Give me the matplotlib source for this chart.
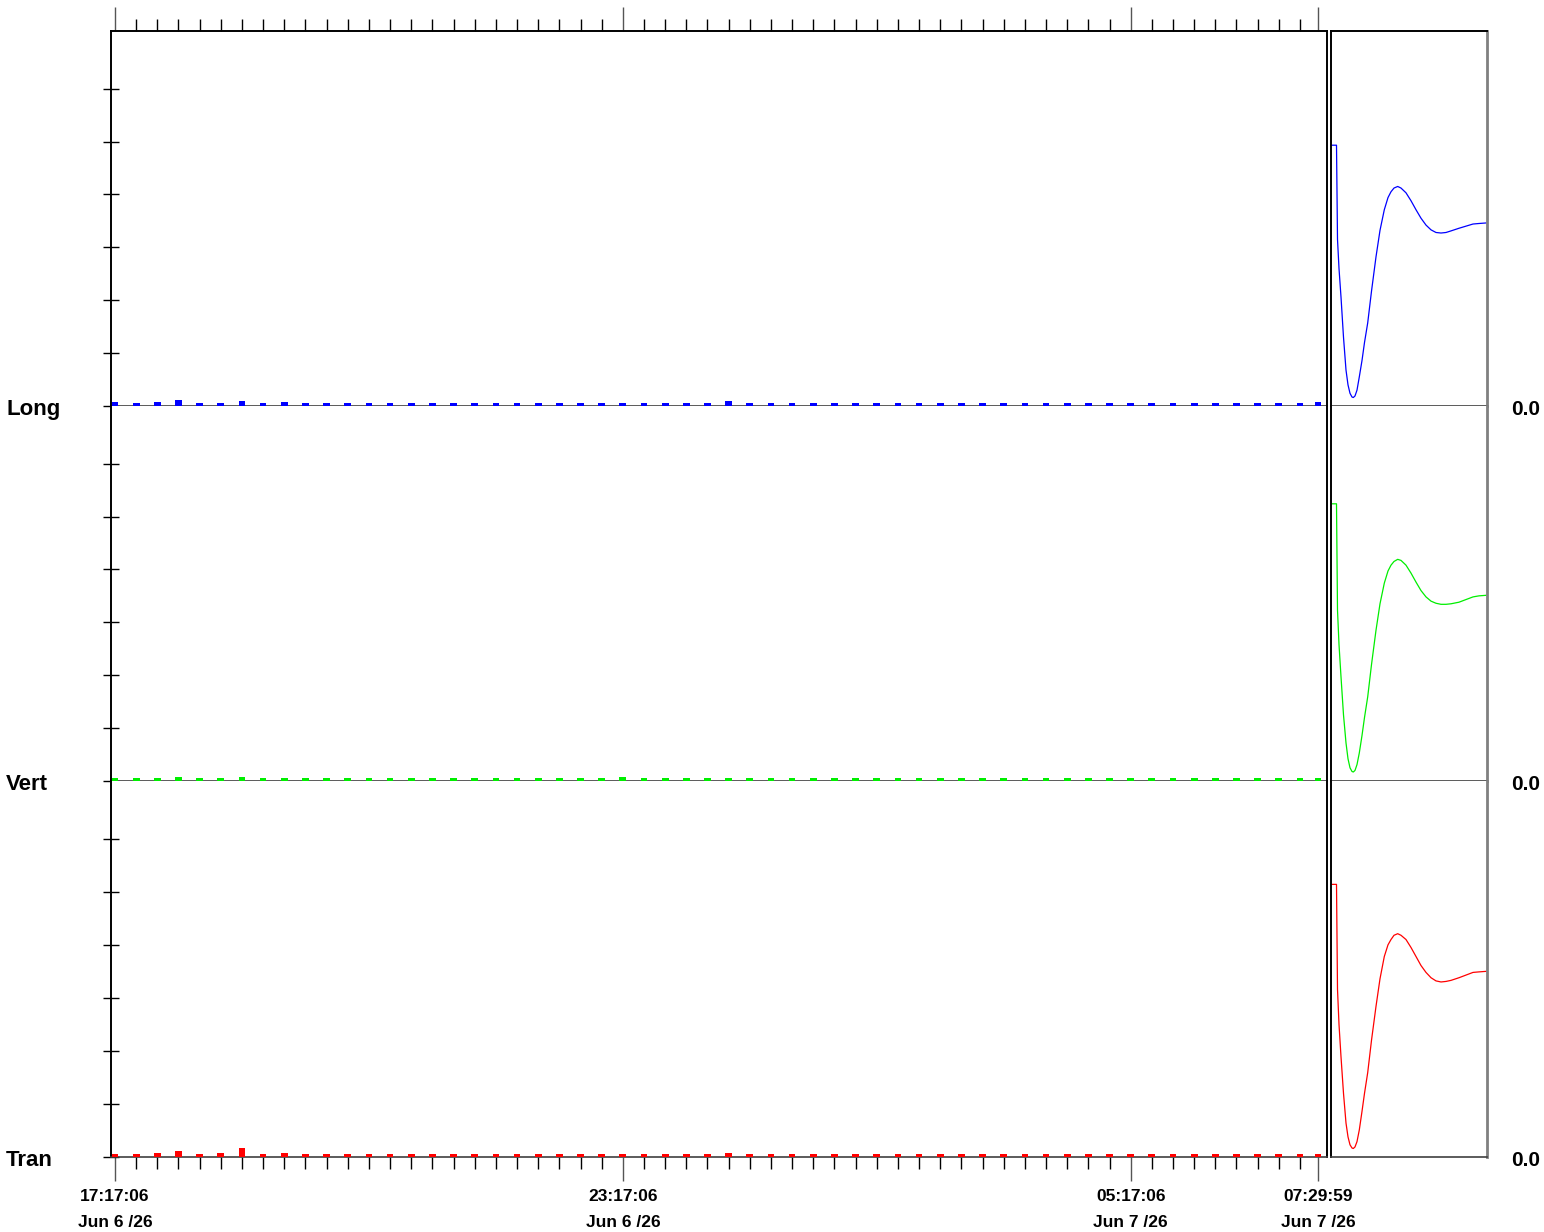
import numpy as np
import pandas as pd
import matplotlib
matplotlib.use("Agg")
import matplotlib.pyplot as plt
import matplotlib.transforms as mtransforms

plt.rcParams['font.family'] = ['Liberation Sans', 'DejaVu Sans']

# Sample times (every 15 min plus the last reading)
start = pd.Timestamp("2026-06-06 17:17:06")
sample_times = list(pd.date_range(start, periods=57, freq="15min")) + [pd.Timestamp("2026-06-07 07:29:59")]
tick_times = [pd.Timestamp("2026-06-06 17:17:06"), pd.Timestamp("2026-06-06 23:17:06"),
              pd.Timestamp("2026-06-07 05:17:06"), pd.Timestamp("2026-06-07 07:29:59")]
tick_time_labels = ["17:17:06", "23:17:06", "05:17:06", "07:29:59"]
tick_date_labels = ["Jun 6 /26", "Jun 6 /26", "Jun 7 /26", "Jun 7 /26"]

channels = ["Long", "Vert", "Tran"]
colors = ["#0000ff", "#00ee00", "#ff0000"]

long_vals = [0.07, 0.05, 0.07, 0.12, 0.05, 0.05, 0.09, 0.06, 0.07, 0.06, 0.05, 0.06, 0.06, 0.05,
             0.06, 0.05, 0.06, 0.05, 0.06, 0.06, 0.06, 0.06, 0.06, 0.05, 0.06, 0.06, 0.06, 0.06,
             0.06, 0.09, 0.06, 0.06, 0.06, 0.06, 0.05, 0.06, 0.05, 0.06, 0.06, 0.06, 0.06, 0.06,
             0.06, 0.06, 0.06, 0.06, 0.06, 0.06, 0.06, 0.06, 0.06, 0.06, 0.06, 0.06, 0.06, 0.06,
             0.06, 0.07]
vert_vals = [0.05, 0.05, 0.05, 0.07, 0.05, 0.05, 0.08, 0.05, 0.05, 0.05, 0.05, 0.05, 0.05, 0.05,
             0.05, 0.05, 0.05, 0.05, 0.05, 0.05, 0.05, 0.05, 0.05, 0.05, 0.08, 0.05, 0.05, 0.05,
             0.05, 0.05, 0.05, 0.05, 0.05, 0.05, 0.05, 0.05, 0.05, 0.05, 0.05, 0.05, 0.05, 0.05,
             0.05, 0.05, 0.05, 0.05, 0.05, 0.05, 0.05, 0.05, 0.05, 0.05, 0.05, 0.05, 0.05, 0.05,
             0.05, 0.05]
tran_vals = [0.06, 0.06, 0.07, 0.11, 0.06, 0.07, 0.17, 0.06, 0.08, 0.06, 0.06, 0.06, 0.06, 0.06,
             0.06, 0.06, 0.06, 0.06, 0.06, 0.06, 0.06, 0.06, 0.06, 0.06, 0.06, 0.06, 0.06, 0.06,
             0.06, 0.07, 0.06, 0.06, 0.06, 0.06, 0.06, 0.06, 0.06, 0.06, 0.06, 0.06, 0.06, 0.06,
             0.06, 0.06, 0.06, 0.06, 0.06, 0.06, 0.06, 0.06, 0.06, 0.06, 0.06, 0.06, 0.06, 0.06,
             0.06, 0.06]

# Waveform panel (right), x in panel pixels
wave_x = [0, 5.5, 6.5, 8, 10, 12.5, 15, 17, 19, 21, 22.3, 24, 26, 28.3, 31, 33.5, 36.7, 40.5, 45, 49,
          53.3, 57, 60, 63, 66.7, 70, 75, 80, 85, 90, 95, 100, 105, 110, 115, 120, 128, 135, 142, 148, 155]
long_wave = [4.93, 4.93, 3.15, 2.60, 2.06, 1.30, 0.68, 0.40, 0.24, 0.17, 0.16, 0.19, 0.30, 0.55, 0.86,
             1.20, 1.57, 2.17, 2.82, 3.32, 3.71, 3.94, 4.05, 4.12, 4.15, 4.12, 4.03, 3.88, 3.71, 3.55,
             3.42, 3.33, 3.28, 3.27, 3.28, 3.31, 3.36, 3.40, 3.44, 3.45, 3.46]
vert_wave = [5.24, 5.24, 3.23, 2.58, 1.97, 1.25, 0.72, 0.42, 0.25, 0.18, 0.17, 0.20, 0.31, 0.53, 0.86,
             1.20, 1.59, 2.20, 2.85, 3.35, 3.74, 3.97, 4.08, 4.15, 4.19, 4.17, 4.08, 3.93, 3.76, 3.60,
             3.48, 3.40, 3.36, 3.34, 3.34, 3.35, 3.38, 3.43, 3.48, 3.50, 3.51]
tran_wave = [5.14, 5.14, 3.16, 2.50, 1.89, 1.20, 0.64, 0.38, 0.23, 0.17, 0.16, 0.19, 0.29, 0.51, 0.86,
             1.20, 1.59, 2.20, 2.84, 3.36, 3.78, 4.00, 4.10, 4.18, 4.21, 4.18, 4.10, 3.95, 3.78, 3.61,
             3.48, 3.38, 3.32, 3.30, 3.31, 3.33, 3.38, 3.43, 3.48, 3.49, 3.50]

bar_vals = [long_vals, vert_vals, tran_vals]
waves = [long_wave, vert_wave, tran_wave]

W, H = 1544, 1232
fig = plt.figure(figsize=(W / 100, H / 100), dpi=100)

t_sec = np.array([(t - start).total_seconds() for t in sample_times])
tick_sec = [(t - start).total_seconds() for t in tick_times]
minor_sec = t_sec[:-1]
ymax = 375 / 52.9

row_top = [31, 406, 781]
row_bot = [406, 781, 1157]


def box(x0, x1, yt, yb):
    return [x0 / W, 1 - yb / H, (x1 - x0) / W, (yb - yt) / H]


axes = []
for i in range(3):
    ax = fig.add_axes(box(111, 1327, row_top[i], row_bot[i]))
    ax.bar(t_sec, bar_vals[i], width=285, color=colors[i], zorder=3)
    ax.set_xlim(-170, 51550)
    ax.set_ylim(0, ymax)
    ax.set_yticks(range(7))
    ax.set_yticklabels([])
    ax.tick_params(axis='y', direction='inout', length=12, width=1, color='black')
    ax.spines['top'].set_visible(i == 0)
    ax.spines['left'].set_linewidth(1.4)
    ax.spines['right'].set_linewidth(1.4)
    ax.spines['top'].set_linewidth(1.4)
    ax.spines['bottom'].set_color('#404040')
    ax.spines['bottom'].set_linewidth(1.2)
    ax.set_xticks(tick_sec)
    ax.set_xticks(minor_sec, minor=True)
    ax.set_xticklabels([])
    if i == 0:
        ax.xaxis.set_ticks_position('top')
    elif i == 2:
        ax.xaxis.set_ticks_position('bottom')
    else:
        ax.tick_params(axis='x', which='both', length=0)
    if i != 1:
        ax.tick_params(axis='x', which='major', direction='out', length=17.5, width=1, color='#555555')
        ax.tick_params(axis='x', which='minor', direction='out', length=8.7, width=1, color='black')
    axes.append(ax)

    wx = fig.add_axes(box(1331, 1487, row_top[i], row_bot[i]))
    wx.plot(wave_x, waves[i], color=colors[i], lw=0.9)
    wx.set_xlim(0, 156)
    wx.set_ylim(0, ymax)
    wx.set_xticks([])
    wx.set_yticks([])
    wx.spines['top'].set_visible(i == 0)
    wx.spines['top'].set_linewidth(1.4)
    wx.spines['left'].set_linewidth(1.4)
    wx.spines['right'].set_color('#808080')
    wx.spines['right'].set_linewidth(2)
    wx.spines['bottom'].set_color('#404040')
    wx.spines['bottom'].set_linewidth(1.2)

    fig.text(6 / W, 1 - (row_bot[i] + 9) / H, channels[i], fontsize=16, fontweight='bold', va='baseline')
    fig.text(1511 / W, 1 - (row_bot[i] + 9) / H, "0.0", fontsize=15, fontweight='bold', va='baseline')

trans = mtransforms.blended_transform_factory(axes[2].transData, fig.transFigure)
for x, tl, dl in zip(tick_sec, tick_time_labels, tick_date_labels):
    fig.text(x, 1 - 1201 / H, tl, transform=trans, ha='center', va='baseline', fontsize=12.5, fontweight='bold')
    fig.text(x, 1 - 1227 / H, dl, transform=trans, ha='center', va='baseline', fontsize=12.5, fontweight='bold')

fig.savefig("out.png", dpi=100)
